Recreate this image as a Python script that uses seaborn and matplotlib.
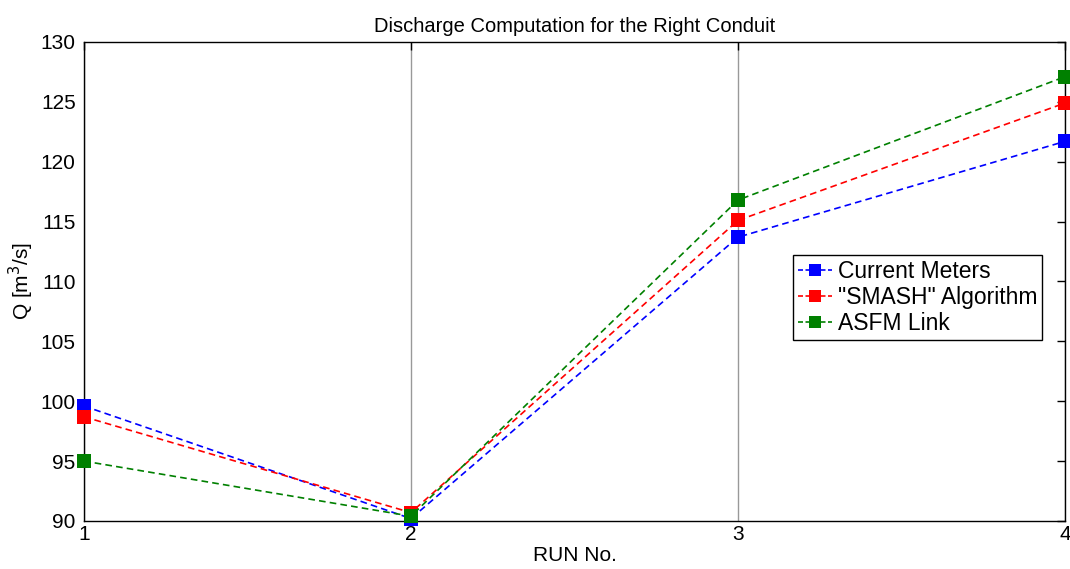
import matplotlib
matplotlib.use("Agg")
import matplotlib.pyplot as plt
import seaborn as sns
import pandas as pd

runs = [1, 2, 3, 4]
current_meters = [99.6, 90.2, 113.7, 121.7]
smash_algorithm = [98.7, 90.7, 115.1, 124.9]
asfm_link = [95.0, 90.4, 116.8, 127.1]
series_names = ["Current Meters", "\"SMASH\" Algorithm", "ASFM Link"]
series_colors = ["#0000ff", "#ff0000", "#008000"]

df = pd.DataFrame({
    "run": runs * 3,
    "Q": current_meters + smash_algorithm + asfm_link,
    "series": [series_names[0]] * 4 + [series_names[1]] * 4 + [series_names[2]] * 4,
})

sns.set_style("white")
plt.rcParams["font.family"] = ["Liberation Sans", "DejaVu Sans"]
plt.rcParams["text.color"] = "black"
plt.rcParams["axes.labelcolor"] = "black"

fig = plt.figure(figsize=(10.7, 5.69), dpi=100)
ax = fig.add_axes([0.0785, 0.0844, 0.9168, 0.8418])

sns.lineplot(
    data=df, x="run", y="Q", hue="series", palette=series_colors,
    hue_order=series_names, marker="s", markersize=9.5, markeredgewidth=0,
    linestyle="--", linewidth=1.2, dashes=False, ax=ax, legend=False,
)
for line in ax.lines:
    line.set_linestyle((0, (4, 2.5)))
    line.set_clip_on(False)
    line.set_zorder(3)

ax.set_xlim(1, 4)
ax.set_ylim(90, 130)
ax.set_xticks(runs)
ax.set_yticks(range(90, 131, 5))
ax.tick_params(axis="both", direction="in", length=6, width=1, labelsize=15,
               top=True, right=True, color="black", labelcolor="black")
ax.tick_params(axis="y", pad=6)
ax.tick_params(axis="x", pad=3)
ax.xaxis.grid(True, color="#999999", linewidth=1)
ax.yaxis.grid(False)
for sp in ax.spines.values():
    sp.set_visible(True)
    sp.set_color("black")
    sp.set_linewidth(1)
    sp.set_zorder(2)

ax.set_xlabel("RUN No.", fontsize=15, labelpad=1, color="black")
ax.set_ylabel("Q [m$^3$/s]", fontsize=15, labelpad=3, color="black")
ax.set_title("Discharge Computation for the Right Conduit", fontsize=14.5, pad=7,
             color="black")

handles = [plt.Line2D([], [], color=c, linestyle=(0, (3, 1.5)), marker="s",
                      markersize=9, markeredgewidth=0, linewidth=1.2)
           for c in series_colors]
leg = ax.legend(handles, series_names, loc="upper left", bbox_to_anchor=(0.7227, 0.5553),
                borderaxespad=0, fancybox=False, edgecolor="black", framealpha=1,
                fontsize=16.5, handlelength=1.5, handletextpad=0.25, borderpad=0.2,
                labelspacing=0.15)
leg.get_frame().set_linewidth(1)
for t in leg.get_texts():
    t.set_color("black")

fig.savefig("out.png", dpi=100)
